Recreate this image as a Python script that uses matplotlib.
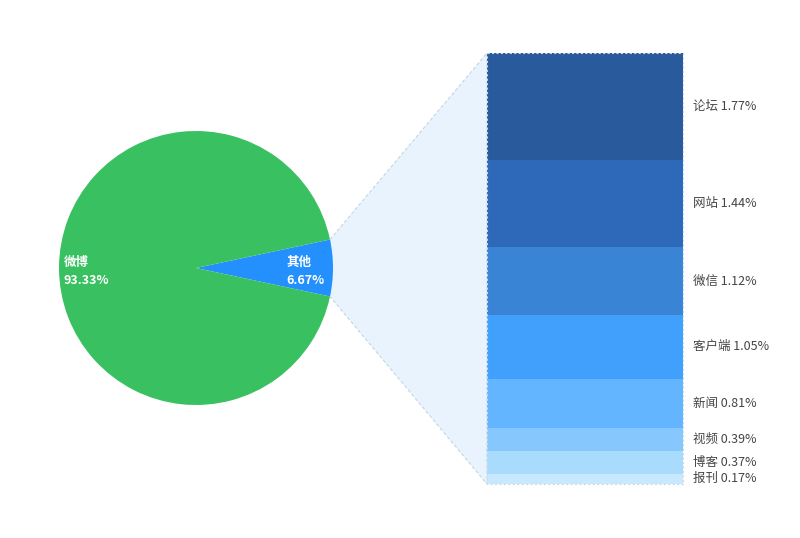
import numpy as np
import matplotlib.pyplot as plt
from matplotlib.patches import Polygon

plt.rcParams['font.family'] = ['Noto Sans CJK SC', 'DejaVu Sans']

# pie data
pie_labels = ['其他', '微博']
pie_values = [6.67, 93.33]
pie_colors = ['#2490fd', '#39c060']

# breakdown of "其他"
sub_labels = ['论坛', '网站', '微信', '客户端', '新闻', '视频', '博客', '报刊']
sub_values = [1.77, 1.44, 1.12, 1.05, 0.81, 0.39, 0.37, 0.17]
sub_colors = ['#295a9b', '#2d69b8', '#3a84d6', '#42a0fd', '#62b5fe',
              '#86c8fd', '#a9dbfc', '#c8e8fd']

fig = plt.figure(figsize=(8, 5.38), dpi=100)
ax = fig.add_axes([0, 0, 1, 1])
ax.set_xlim(0, 800)
ax.set_ylim(538, 0)
ax.axis('off')

# pie
cx, cy, r = 196, 268, 137
half = pie_values[0] / 100 * 180
wedges, _ = ax.pie(pie_values, colors=pie_colors, center=(cx, cy), radius=r,
                   startangle=-half, counterclock=True, frame=True,
                   wedgeprops=dict(linewidth=0))
ax.set_xlim(0, 800)
ax.set_ylim(538, 0)
ax.axis('off')

# the y axis is inverted, so pie angles are mirrored; labels at 0.8 r
for w, lab, val in zip(wedges, pie_labels, pie_values):
    ang = np.deg2rad((w.theta1 + w.theta2) / 2)
    tx = cx + 0.8 * r * np.cos(ang)
    ty = cy - 0.8 * r * np.sin(ang)
    ax.text(tx, ty + 3, f'{lab}\n{val:.2f}%', ha='center', va='center',
            multialignment='left', color='white', fontsize=9,
            fontweight='bold', linespacing=1.5, zorder=5)

# stacked bar
bx, bw = 487, 196
top, bottom_px = 53, 484
scale = (bottom_px - top) / sum(sub_values)
heights = np.array(sub_values) * scale
bottoms = top + np.concatenate([[0], np.cumsum(heights)[:-1]])
ax.bar([bx + bw / 2] * len(sub_values), heights, width=bw, bottom=bottoms,
       color=sub_colors, linewidth=0, zorder=3)
ax.add_patch(plt.Rectangle((bx, top), bw, bottom_px - top, fill=False,
                           edgecolor='#c8dbea', linestyle=(0, (2, 2)),
                           linewidth=0.8, zorder=4))
for b, h, lab, val in zip(bottoms, heights, sub_labels, sub_values):
    ax.text(bx + bw + 10, b + h / 2, f'{lab} {val:.2f}%', ha='left',
            va='center', fontsize=9, color='#444444')

# connector
a = np.deg2rad(half)
p1 = (cx + r * np.cos(a), cy - r * np.sin(a))
p2 = (cx + r * np.cos(a), cy + r * np.sin(a))
poly = Polygon([p1, (bx, top), (bx, bottom_px), p2], closed=True,
               facecolor='#e8f3fd', edgecolor='#c3d6e6',
               linestyle=(0, (3, 2)), linewidth=0.8, zorder=0)
ax.add_patch(poly)

fig.savefig('out.png', dpi=100)
